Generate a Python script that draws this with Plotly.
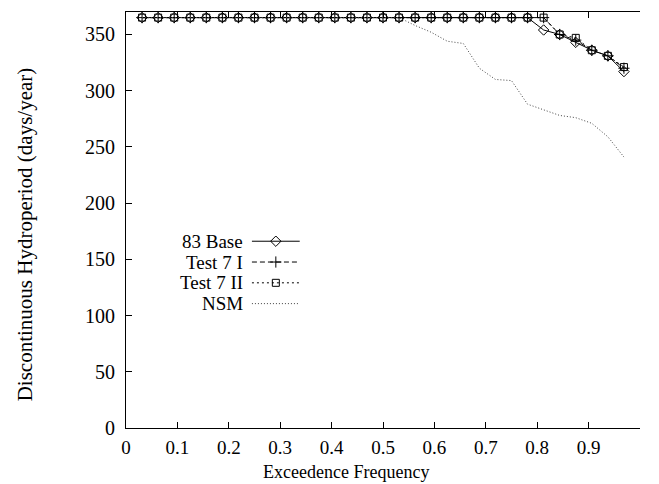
import plotly.graph_objects as go

freq = [0.03125, 0.0625, 0.09375, 0.125, 0.15625, 0.1875, 0.21875, 0.25,
        0.28125, 0.3125, 0.34375, 0.375, 0.40625, 0.4375, 0.46875, 0.5,
        0.53125, 0.5625, 0.59375, 0.625, 0.65625, 0.6875, 0.71875, 0.75,
        0.78125, 0.8125, 0.84375, 0.875, 0.90625, 0.9375, 0.96875]

base83 = [365, 365, 365, 365, 365, 365, 365, 365, 365, 365, 365, 365, 365, 365, 365, 365,
          365, 365, 365, 365, 365, 365, 365, 365, 365, 354, 350, 343, 336, 331, 317]
test7_1 = [365, 365, 365, 365, 365, 365, 365, 365, 365, 365, 365, 365, 365, 365, 365, 365,
           365, 365, 365, 365, 365, 365, 365, 365, 365, 365, 350, 345, 336, 331, 320]
test7_2 = [365, 365, 365, 365, 365, 365, 365, 365, 365, 365, 365, 365, 365, 365, 365, 365,
           365, 365, 365, 365, 365, 365, 365, 365, 365, 365, 350, 347, 336, 331, 321]
nsm = [365, 365, 365, 365, 365, 365, 365, 365, 365, 365, 365, 365, 365, 365, 365, 365,
       365, 358, 352, 344, 342, 320, 310, 309, 288, 283, 278, 276, 271, 259, 241]

names = ["83 Base", "Test 7 I", "Test 7 II", "NSM"]
x_ticks = [0, 0.1, 0.2, 0.3, 0.4, 0.5, 0.6, 0.7, 0.8, 0.9]
y_ticks = [0, 50, 100, 150, 200, 250, 300, 350]
x_title = "Exceedence Frequency"
y_title = "Discontinuous Hydroperiod (days/year)"

FONT = "Liberation Serif"
styles = [
    dict(line=dict(color="black", width=1, dash="solid"),
         marker=dict(symbol="diamond-open", size=8, color="black", line=dict(width=1))),
    dict(line=dict(color="black", width=1, dash="5px,3px"),
         marker=dict(symbol="cross-thin-open", size=8, color="black", line=dict(width=1))),
    dict(line=dict(color="black", width=1, dash="2px,3px"),
         marker=dict(symbol="square-open", size=7, color="black", line=dict(width=1))),
    dict(line=dict(color="#444444", width=1, dash="1px,2px"), marker=None),
]
series = [base83, test7_1, test7_2, nsm]

fig = go.Figure()
for name, ys, st in zip(names, series, styles):
    kw = dict(x=freq, y=ys, name=name, showlegend=False, line=st["line"])
    if st["marker"] is not None:
        kw.update(mode="lines+markers", marker=st["marker"])
    else:
        kw.update(mode="lines")
    fig.add_trace(go.Scatter(**kw))

# gnuplot-style key (text left, sample right) on an overlay axis
leg_x0, leg_x1 = 0.245, 0.338
leg_rows = [0.449, 0.399, 0.349, 0.299]
for name, st, ry in zip(names, styles, leg_rows):
    fig.add_trace(go.Scatter(x=[leg_x0, leg_x1], y=[ry, ry], mode="lines",
                             line=st["line"], xaxis="x2", yaxis="y2",
                             showlegend=False, hoverinfo="skip"))
    if st["marker"] is not None:
        fig.add_trace(go.Scatter(x=[(leg_x0 + leg_x1) / 2], y=[ry], mode="markers",
                                 marker=st["marker"], xaxis="x2", yaxis="y2",
                                 showlegend=False, hoverinfo="skip"))
    fig.add_annotation(x=leg_x0 - 0.014, y=ry, xref="x2", yref="y2", text=name,
                       showarrow=False, xanchor="right", yanchor="middle",
                       font=dict(family=FONT, size=19, color="black"))

# axis titles placed as in the reference
fig.add_annotation(x=-0.197, y=0.465, xref="paper", yref="paper", text=y_title,
                   textangle=-90, showarrow=False, xanchor="center", yanchor="middle",
                   font=dict(family=FONT, size=21, color="black"))
fig.add_annotation(x=0.428, y=-0.106, xref="paper", yref="paper", text=x_title,
                   showarrow=False, xanchor="center", yanchor="middle",
                   font=dict(family=FONT, size=18, color="black"))

fig.update_layout(
    width=659, height=484,
    margin=dict(l=126, r=19, t=12, b=56),
    paper_bgcolor="white", plot_bgcolor="white",
    font=dict(family=FONT, size=19, color="black"),
    xaxis=dict(range=[0, 1], tickvals=x_ticks, ticktext=[str(v) for v in x_ticks],
               ticks="inside", ticklen=6, tickcolor="black", showline=True,
               linecolor="black", linewidth=1, mirror="ticks", showgrid=False,
               zeroline=False, ticklabelstandoff=2,
               tickfont=dict(family=FONT, size=19)),
    yaxis=dict(range=[0, 370], tickvals=y_ticks, ticks="inside", ticklen=6,
               tickcolor="black", showline=True, linecolor="black", linewidth=1,
               mirror=False, showgrid=False, zeroline=False, ticklabelstandoff=6,
               tickfont=dict(family=FONT, size=20)),
    xaxis2=dict(range=[0, 1], overlaying="x", visible=False, fixedrange=True),
    yaxis2=dict(range=[0, 1], overlaying="y", visible=False, fixedrange=True),
)

fig.write_html("out.html", config={"displayModeBar": False},
               post_script="document.body.style.margin='0';document.body.style.overflow='hidden';")
